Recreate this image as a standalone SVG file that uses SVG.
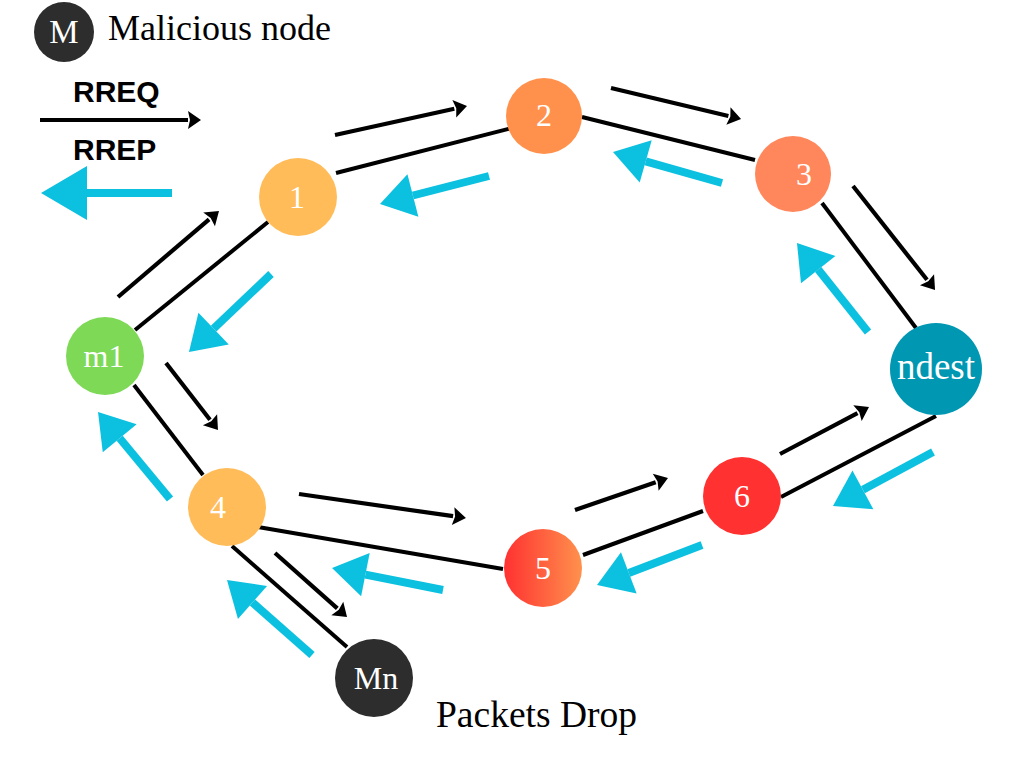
<svg xmlns="http://www.w3.org/2000/svg" width="1024" height="768" viewBox="0 0 1024 768">
<style>
.link{stroke:#000;stroke-width:4;fill:none;stroke-linecap:butt}
.req{stroke:#000;stroke-width:4.2;fill:none;marker-end:url(#bh)}
.rep{stroke:#0CC0DF;stroke-width:8;fill:none;marker-end:url(#blh)}
.lbl{font-family:"Liberation Serif","DejaVu Serif",serif;fill:#fff;text-anchor:middle}
.cap{font-family:"Liberation Serif","DejaVu Serif",serif;fill:#000}
.leg{font-family:"Liberation Sans","DejaVu Sans",sans-serif;font-weight:bold;font-size:30px;fill:#000}
</style>
<defs>
<marker id="bh" markerUnits="userSpaceOnUse" viewBox="0 -10 14 20" markerWidth="14" markerHeight="20" refX="0" refY="0" orient="auto" overflow="visible">
<path d="M0,-9 L13,0 L0,9 L2,0 Z" fill="#000"/>
</marker>
<marker id="blh" markerUnits="userSpaceOnUse" viewBox="0 -22 34 44" markerWidth="34" markerHeight="44" refX="0" refY="0" orient="auto" overflow="visible">
<path d="M0,-22 L34,0 L0,22 Z" fill="#0CC0DF"/>
</marker>
<marker id="blhBig" markerUnits="userSpaceOnUse" viewBox="0 -27 46 54" markerWidth="46" markerHeight="54" refX="0" refY="0" orient="auto" overflow="visible">
<path d="M0,-27 L46,0 L0,27 Z" fill="#0CC0DF"/>
</marker>
<linearGradient id="g5" x1="0" y1="0" x2="1" y2="0">
<stop offset="0" stop-color="#FF3131"/>
<stop offset="1" stop-color="#FF914D"/>
</linearGradient>
</defs>

<g id="legend">
<circle cx="64" cy="32" r="30" fill="#2D2D2D"/>
<text class="lbl" x="64" y="43" font-size="33">M</text>
<text class="cap" x="108" y="40" font-size="36">Malicious node</text>
<text class="leg" x="73" y="102">RREQ</text>
<line x1="40" y1="120" x2="188" y2="120" class="req"/>
<text class="leg" x="73" y="160">RREP</text>
<line x1="172" y1="193" x2="87" y2="193" stroke="#0CC0DF" stroke-width="8" marker-end="url(#blhBig)"/>
</g>

<g id="connectors">
<line class="link" x1="135" y1="330" x2="268" y2="222"/>
<line class="link" x1="336" y1="173" x2="512" y2="128"/>
<line class="link" x1="582" y1="117" x2="755" y2="160"/>
<line class="link" x1="822" y1="203" x2="916" y2="328"/>
<line class="link" x1="936" y1="416" x2="781" y2="497"/>
<line class="link" x1="703" y1="511" x2="583" y2="555"/>
<line class="link" x1="503" y1="569" x2="258" y2="527"/>
<line class="link" x1="203" y1="475" x2="134" y2="385"/>
<line class="link" x1="232" y1="546" x2="347" y2="647"/>

<line class="req" x1="118" y1="297" x2="209.1" y2="219.4"/>
<line class="req" x1="335" y1="135" x2="454.3" y2="108.8"/>
<line class="req" x1="611" y1="88" x2="728.4" y2="116"/>
<line class="req" x1="853" y1="186" x2="927" y2="279.8"/>
<line class="req" x1="780" y1="454" x2="857.5" y2="413.1"/>
<line class="req" x1="575" y1="510" x2="655.7" y2="482.2"/>
<line class="req" x1="299" y1="494" x2="453.1" y2="516.2"/>
<line class="req" x1="166" y1="363" x2="210" y2="419.7"/>
<line class="req" x1="275" y1="553" x2="337.3" y2="608.4"/>

<line class="rep" x1="489" y1="176" x2="412.9" y2="195.5"/>
<line class="rep" x1="722" y1="183" x2="645.7" y2="161.3"/>
<line class="rep" x1="868" y1="332" x2="818.2" y2="269.6"/>
<line class="rep" x1="271" y1="274" x2="213.6" y2="328.6"/>
<line class="rep" x1="170" y1="499" x2="119.7" y2="438.2"/>
<line class="rep" x1="443" y1="590" x2="365.4" y2="574.6"/>
<line class="rep" x1="702" y1="545" x2="628.8" y2="572.9"/>
<line class="rep" x1="933" y1="452" x2="862.9" y2="489.8"/>
<line class="rep" x1="312" y1="655" x2="252.5" y2="602.5"/>
</g>

<g id="node-1"><circle cx="298" cy="197" r="39" fill="#FFBC59"/><text class="lbl" x="297" y="208" font-size="32">1</text></g>
<g id="node-2"><circle cx="544" cy="116" r="38" fill="#FF914D"/><text class="lbl" x="544" y="126" font-size="32">2</text></g>
<g id="node-3"><circle cx="793" cy="174" r="38" fill="#FF875B"/><text class="lbl" x="804" y="185" font-size="32">3</text></g>
<g id="node-m1"><circle cx="105" cy="356" r="39" fill="#7ED957"/><text class="lbl" x="104" y="367" font-size="32">m1</text></g>
<g id="node-4"><circle cx="227" cy="507" r="39" fill="#FFBC59"/><text class="lbl" x="218" y="518" font-size="32">4</text></g>
<g id="node-Mn"><circle cx="374" cy="678" r="39" fill="#2D2D2D"/><text class="lbl" x="376" y="689" font-size="32">Mn</text></g>
<g id="node-5"><circle cx="543" cy="568" r="39" fill="url(#g5)"/><text class="lbl" x="543" y="579" font-size="32">5</text></g>
<g id="node-6"><circle cx="742" cy="496" r="39" fill="#FF3131"/><text class="lbl" x="742" y="507" font-size="32">6</text></g>
<g id="node-ndest"><circle cx="936" cy="369" r="46" fill="#0097B2"/><text class="lbl" x="936" y="379" font-size="37">ndest</text></g>

<text class="cap" x="436" y="727" font-size="37.5">Packets Drop</text>
</svg>
